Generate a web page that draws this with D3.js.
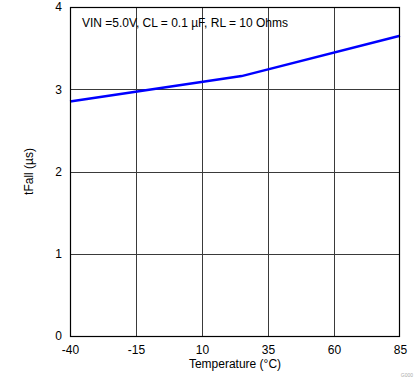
<!DOCTYPE html>
<html>
<head>
<meta charset="utf-8">
<script src="https://cdn.jsdelivr.net/npm/d3@7"></script>
<style>
  html, body { margin: 0; padding: 0; background: #fff; }
  svg { display: block; font-family: "Liberation Sans", Arial, sans-serif; }
</style>
</head>
<body>
<svg id="chart" width="419" height="382"></svg>
<script>
// Data
const temperatures = [-40, 25, 85];
const tFall = [2.85, 3.16, 3.65];
const xTicks = [-40, -15, 10, 35, 60, 85];
const yTicks = [0, 1, 2, 3, 4];
const annotation = "VIN =5.0V, CL = 0.1 µF, RL = 10 Ohms";
const xTitle = "Temperature (°C)";
const yTitle = "tFall (µs)";

const svg = d3.select("#chart");
const margin = { left: 70, top: 7, right: 19, bottom: 46 };
const W = 419, H = 382;
const x = d3.scaleLinear().domain([-40, 85]).range([margin.left, W - margin.right]);
const y = d3.scaleLinear().domain([0, 4]).range([H - margin.bottom, margin.top]);

// gridlines
const g = svg.append("g");
g.selectAll("line.vx").data(xTicks.slice(1, -1)).enter().append("line")
  .attr("x1", d => Math.round(x(d)) + 0.5).attr("x2", d => Math.round(x(d)) + 0.5)
  .attr("y1", y(4)).attr("y2", y(0))
  .attr("stroke", "#3a3a3a").attr("stroke-width", 1);
g.selectAll("line.hy").data(yTicks.slice(1, -1)).enter().append("line")
  .attr("y1", d => Math.round(y(d)) + 0.5).attr("y2", d => Math.round(y(d)) + 0.5)
  .attr("x1", x(-40)).attr("x2", x(85))
  .attr("stroke", "#3a3a3a").attr("stroke-width", 1);

// annotation
svg.append("text").attr("x", 82).attr("y", 27)
  .attr("font-size", 12).attr("fill", "#000")
  .attr("textLength", 206).attr("lengthAdjust", "spacingAndGlyphs")
  .text(annotation);

// line
const pts = temperatures.map((t, i) => [t, tFall[i]]);
svg.append("path").datum(pts)
  .attr("d", d3.line().x(d => x(d[0])).y(d => y(d[1])))
  .attr("fill", "none").attr("stroke", "#0000ff").attr("stroke-width", 2.5);

// border
svg.append("rect")
  .attr("x", x(-40) + 0.5).attr("y", Math.round(y(4)) + 0.5)
  .attr("width", x(85) - x(-40) - 1).attr("height", Math.round(y(0)) - Math.round(y(4)))
  .attr("fill", "none").attr("stroke", "#000").attr("stroke-width", 1.2);

// axes labels via d3 axes (hide domain/ticks)
const xAxis = svg.append("g").attr("transform", `translate(0,${y(0)})`)
  .call(d3.axisBottom(x).tickValues(xTicks).tickSize(0).tickPadding(9).tickFormat(d => String(d)));
xAxis.select(".domain").remove();
xAxis.selectAll("text").attr("font-size", 12).attr("fill", "#000")
  .attr("font-family", "Liberation Sans, Arial, sans-serif");

const yAxis = svg.append("g").attr("transform", `translate(${x(-40)},0)`)
  .call(d3.axisLeft(y).tickValues(yTicks).tickSize(0).tickPadding(8).tickFormat(d => String(d)));
yAxis.select(".domain").remove();
yAxis.selectAll("text").attr("font-size", 12).attr("fill", "#000")
  .attr("font-family", "Liberation Sans, Arial, sans-serif");

// titles
svg.append("text").attr("x", (x(-40) + x(85)) / 2).attr("y", 368).attr("text-anchor", "middle")
  .attr("font-size", 12).attr("fill", "#000").text(xTitle);
svg.append("text").attr("transform", `translate(33,${(y(0) + y(4)) / 2}) rotate(-90)`)
  .attr("text-anchor", "middle").attr("font-size", 12).attr("fill", "#000").text(yTitle);

// tiny code
svg.append("text").attr("x", 413).attr("y", 377).attr("text-anchor", "end")
  .attr("font-size", 5).attr("fill", "#aaa").text("G000");
</script>
</body>
</html>
